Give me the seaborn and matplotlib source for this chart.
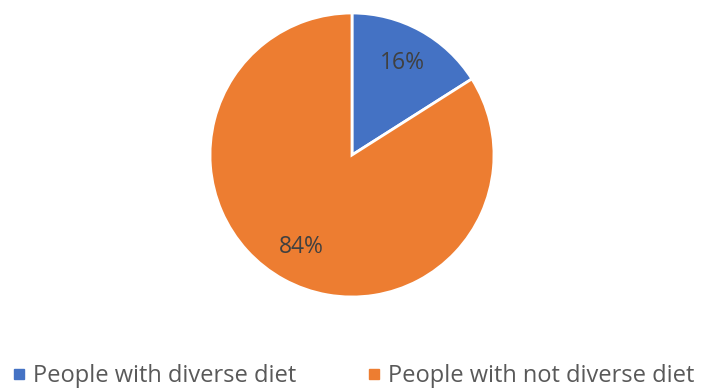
import matplotlib
matplotlib.use("Agg")
import matplotlib.pyplot as plt
from matplotlib.lines import Line2D
import seaborn as sns

# data
labels = ['People with diverse diet', 'People with not diverse diet']
values = [16, 84]
colors = ['#4472C4', '#ED7D31']

sns.set_theme(style='white')
plt.rcParams['font.family'] = ['Open Sans', 'DejaVu Sans']

fig = plt.figure(figsize=(7.06, 3.92), dpi=100)
# pie centred at (352,155) px with radius ~142 px
ax = fig.add_axes([(352 - 142) / 706, (392 - 297) / 392, 284 / 706, 284 / 392])

wedges, texts, autotexts = ax.pie(
    values, colors=colors, startangle=90, counterclock=False,
    autopct='%1.0f%%', pctdistance=0.74,
    wedgeprops=dict(edgecolor='white', linewidth=2),
    textprops=dict(color='#404040', fontsize=16.5))
ax.set_xlim(-1.0, 1.0)
ax.set_ylim(-1.0, 1.0)
ax.set_aspect('equal')

handles = [Line2D([0], [0], marker='s', linestyle='none', markersize=7,
                  markerfacecolor=c, markeredgecolor=c) for c in colors]
leg = fig.legend(handles, labels, loc='center', bbox_to_anchor=(0.5, 0.04),
                 ncol=2, frameon=False, fontsize=17, columnspacing=3.0,
                 handletextpad=0.3, handlelength=0.6)
for t in leg.get_texts():
    t.set_color('#595959')

fig.savefig('out.png', dpi=100)
